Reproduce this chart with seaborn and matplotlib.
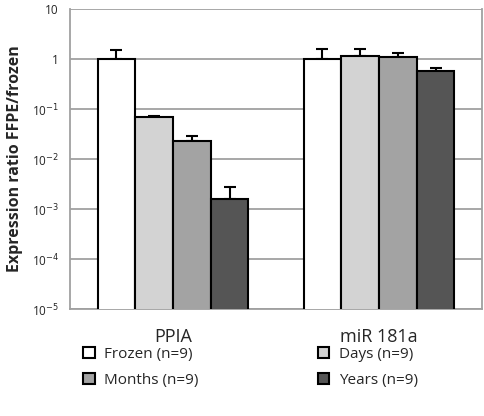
import numpy as np
import pandas as pd
import matplotlib
matplotlib.use("Agg")
import matplotlib.pyplot as plt
import seaborn as sns
from matplotlib.ticker import FixedLocator, NullLocator

# Data
genes = ["PPIA", "miR 181a"]
groups = ["Frozen (n=9)", "Days (n=9)", "Months (n=9)", "Years (n=9)"]
ppia_vals = [1.0, 0.069, 0.023, 0.0016]
ppia_err = [0.5, 0.004, 0.006, 0.0011]
mir_vals = [1.0, 1.16, 1.08, 0.58]
mir_err = [0.55, 0.40, 0.22, 0.07]
colors = ["#ffffff", "#d3d3d3", "#a3a3a3", "#555555"]
ytick_vals = [1e-5, 1e-4, 1e-3, 1e-2, 1e-1, 1, 10]
ytick_labels = ["10$^{-5}$", "10$^{-4}$", "10$^{-3}$", "10$^{-2}$", "10$^{-1}$", "1", "10"]

df = pd.DataFrame({
    "Gene": [g for g in genes for _ in groups],
    "Group": groups * 2,
    "Ratio": ppia_vals + mir_vals,
    "Err": ppia_err + mir_err,
})

sns.set_style("white")
plt.rcParams["font.family"] = ["Open Sans", "DejaVu Sans"]

fig = plt.figure(figsize=(4.85, 4.16), dpi=100)
ax = fig.add_axes([70 / 485, 107 / 416, 412 / 485, 300 / 416])

sns.barplot(data=df, x="Gene", y="Ratio", hue="Group", hue_order=groups,
            palette=colors, width=0.733, gap=0, edgecolor="black", linewidth=1.5,
            errorbar=None, ax=ax, zorder=3)
ax.set_yscale("log")

# upper error bars
for cont, grp in zip(ax.containers, groups):
    sub = df[df["Group"] == grp]
    xs = [b.get_x() + b.get_width() / 2 for b in cont]
    ax.errorbar(xs, sub["Ratio"].values, yerr=[np.zeros(len(sub)), sub["Err"].values],
                fmt="none", ecolor="black", elinewidth=1.5, capsize=4, capthick=1.5, zorder=2)

ax.set_ylim(1e-5, 10)
ax.set_xlim(-0.5, 1.5)
ax.yaxis.set_major_locator(FixedLocator(ytick_vals))
ax.yaxis.set_minor_locator(NullLocator())
ax.set_yticklabels(ytick_labels)
ax.grid(axis="y", color="#a0a0a0", linewidth=1.3, zorder=0)
ax.set_axisbelow(True)

for s in ["left", "bottom", "right"]:
    ax.spines[s].set_color("#a0a0a0")
    ax.spines[s].set_linewidth(1.3)
ax.spines["top"].set_visible(False)

ax.tick_params(axis="y", length=5, color="#a0a0a0", width=1.3, labelsize=8.5, pad=3)
ax.set_xticks([0, 1])
ax.set_xticklabels(genes)
ax.tick_params(axis="x", length=0, labelsize=13, pad=14)
ax.set_xticks([-0.5, 0.5, 1.5], minor=True)
ax.tick_params(axis="x", which="minor", length=5, color="#a0a0a0", width=1.3)

ax.set_xlabel("")
ax.set_ylabel("Expression ratio FFPE/frozen", fontsize=11.5, fontweight="bold", labelpad=6)

handles, labels = ax.get_legend_handles_labels()
order = [0, 2, 1, 3]
ax.legend([handles[i] for i in order], [labels[i] for i in order], ncol=2,
          loc="upper left", bbox_to_anchor=(7 / 412, -0.105), frameon=False,
          fontsize=11, handlelength=0.75, handleheight=0.75, handletextpad=0.6,
          columnspacing=7.85, labelspacing=0.75, borderaxespad=0)

fig.savefig("out.png", dpi=100)
